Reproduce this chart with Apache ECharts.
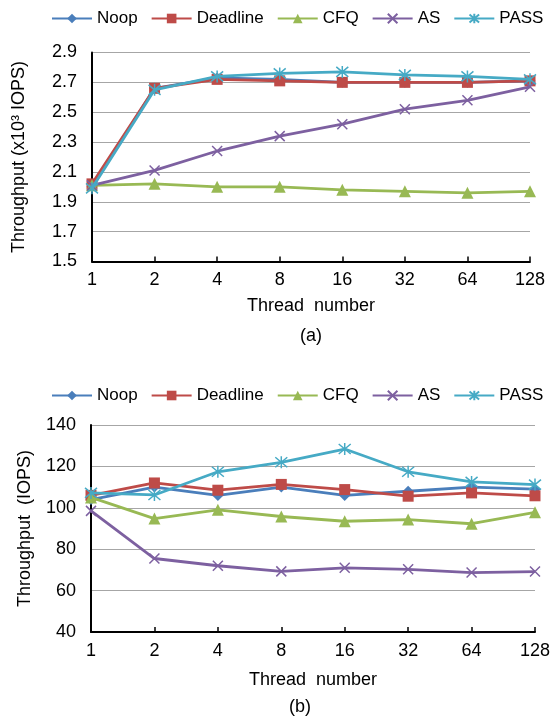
<!DOCTYPE html>
<html>
<head>
<meta charset="utf-8">
<script src="https://cdn.jsdelivr.net/npm/echarts@6/dist/echarts.min.js"></script>
<style>
  html, body { margin: 0; padding: 0; background: #fff; }
  #chart { width: 555px; height: 725px; }
</style>
</head>
<body>
<div id="chart"></div>
<script>
var threads = ['1', '2', '4', '8', '16', '32', '64', '128'];
var schedulers = ['Noop', 'Deadline', 'CFQ', 'AS', 'PASS'];

// (a) throughput, x10^3 IOPS
var noopA = [2.00, 2.66, 2.73, 2.72, 2.70, 2.70, 2.70, 2.71];
var deadlineA = [2.02, 2.66, 2.72, 2.71, 2.70, 2.70, 2.70, 2.71];
var cfqA = [2.01, 2.02, 2.00, 2.00, 1.98, 1.97, 1.96, 1.97];
var asA = [2.01, 2.11, 2.24, 2.34, 2.42, 2.52, 2.58, 2.67];
var passA = [1.99, 2.65, 2.74, 2.76, 2.77, 2.75, 2.74, 2.72];

// (b) throughput, IOPS
var noopB = [104, 110, 106, 110, 106, 108, 110, 109];
var deadlineB = [106, 112, 108.5, 111.3, 108.8, 105.6, 107.2, 105.8];
var cfqB = [105, 94.8, 99, 95.8, 93.5, 94.3, 92.3, 97.8];
var asB = [98.5, 75.5, 72, 69.3, 71, 70.3, 68.7, 69.2];
var passB = [107.2, 106.2, 117.4, 122, 128.4, 117.4, 112.5, 111.2];

var colors = ['#4A7EBB', '#BE4B48', '#98B954', '#7D60A0', '#46AAC5'];
var symbols = [
    'diamond',
    'rect',
    'triangle',
    'path://M0,0L10,10M10,0L0,10',
    'path://M0,0L10,10M10,0L0,10M5,-1L5,11'
];
var symbolSizes = [11, 11, 12, 10, 12];

var font = 'Liberation Sans, Arial, sans-serif';

function makeLegend(top) {
    return {
        data: schedulers,
        top: top,
        left: 46,
        itemWidth: 40,
        itemHeight: 12,
        itemGap: 13,
        selectedMode: false,
        textStyle: { fontFamily: font, fontSize: 17, color: '#000' }
    };
}

function makeXAxis(gridIndex, gap) {
    return {
        type: 'category',
        gridIndex: gridIndex,
        data: threads,
        boundaryGap: false,
        name: 'Thread  number',
        nameLocation: 'middle',
        nameGap: gap,
        nameTextStyle: { fontFamily: font, fontSize: 18, color: '#000' },
        axisLine: { lineStyle: { color: '#000', width: 2 } },
        axisTick: { show: true, inside: true, length: 5, alignWithLabel: true, lineStyle: { color: '#000', width: 1.5 } },
        axisLabel: { fontFamily: font, fontSize: 18, color: '#000', margin: 10 },
        splitLine: { show: false }
    };
}

function makeYAxis(gridIndex, name, min, max, interval, digits, gap) {
    return {
        type: 'value',
        gridIndex: gridIndex,
        min: min,
        max: max,
        interval: interval,
        name: name,
        nameLocation: 'middle',
        nameGap: gap,
        nameTextStyle: { fontFamily: font, fontSize: 18, color: '#000' },
        axisLine: { show: true, lineStyle: { color: '#000', width: 2 } },
        axisTick: { show: false },
        axisLabel: {
            fontFamily: font, fontSize: 18, color: '#000', margin: 15,
            formatter: function (v) { return v.toFixed(digits); }
        },
        splitLine: { show: true, lineStyle: { color: '#A6A6A6', width: 1.2 } }
    };
}

function makeSeries(datasets, axisIndex) {
    return datasets.map(function (d, i) {
        return {
            type: 'line',
            name: schedulers[i],
            xAxisIndex: axisIndex,
            yAxisIndex: axisIndex,
            data: d,
            symbol: symbols[i],
            symbolSize: symbolSizes[i],
            showAllSymbol: true,
            lineStyle: { color: colors[i], width: 2.8 },
            itemStyle: { color: colors[i], borderColor: colors[i], borderWidth: i >= 3 ? 1.5 : 0 },
            z: i === 4 ? 6 : 2 + i
        };
    });
}

var chart = echarts.init(document.getElementById('chart'), null, { renderer: 'canvas' });
chart.setOption({
    animation: false,
    color: colors,
    legend: [makeLegend(5), makeLegend(382)],
    grid: [
        { left: 92, right: 25, top: 52.5, height: 209 },
        { left: 91, right: 20, top: 425, height: 207 }
    ],
    xAxis: [makeXAxis(0, 36), makeXAxis(1, 39)],
    yAxis: [
        makeYAxis(0, 'Throughput (x10³ IOPS)', 1.5, 2.9, 0.2, 1, 64),
        makeYAxis(1, 'Throughput  (IOPS)', 40, 140, 20, 0, 57)
    ],
    series: makeSeries([noopA, deadlineA, cfqA, asA, passA], 0)
        .concat(makeSeries([noopB, deadlineB, cfqB, asB, passB], 1)),
    graphic: [
        { type: 'text', style: { x: 311, y: 336, text: '(a)', align: 'center', verticalAlign: 'middle', font: '18px ' + font, fill: '#000' } },
        { type: 'text', style: { x: 300, y: 707, text: '(b)', align: 'center', verticalAlign: 'middle', font: '18px ' + font, fill: '#000' } }
    ]
});
</script>
</body>
</html>
